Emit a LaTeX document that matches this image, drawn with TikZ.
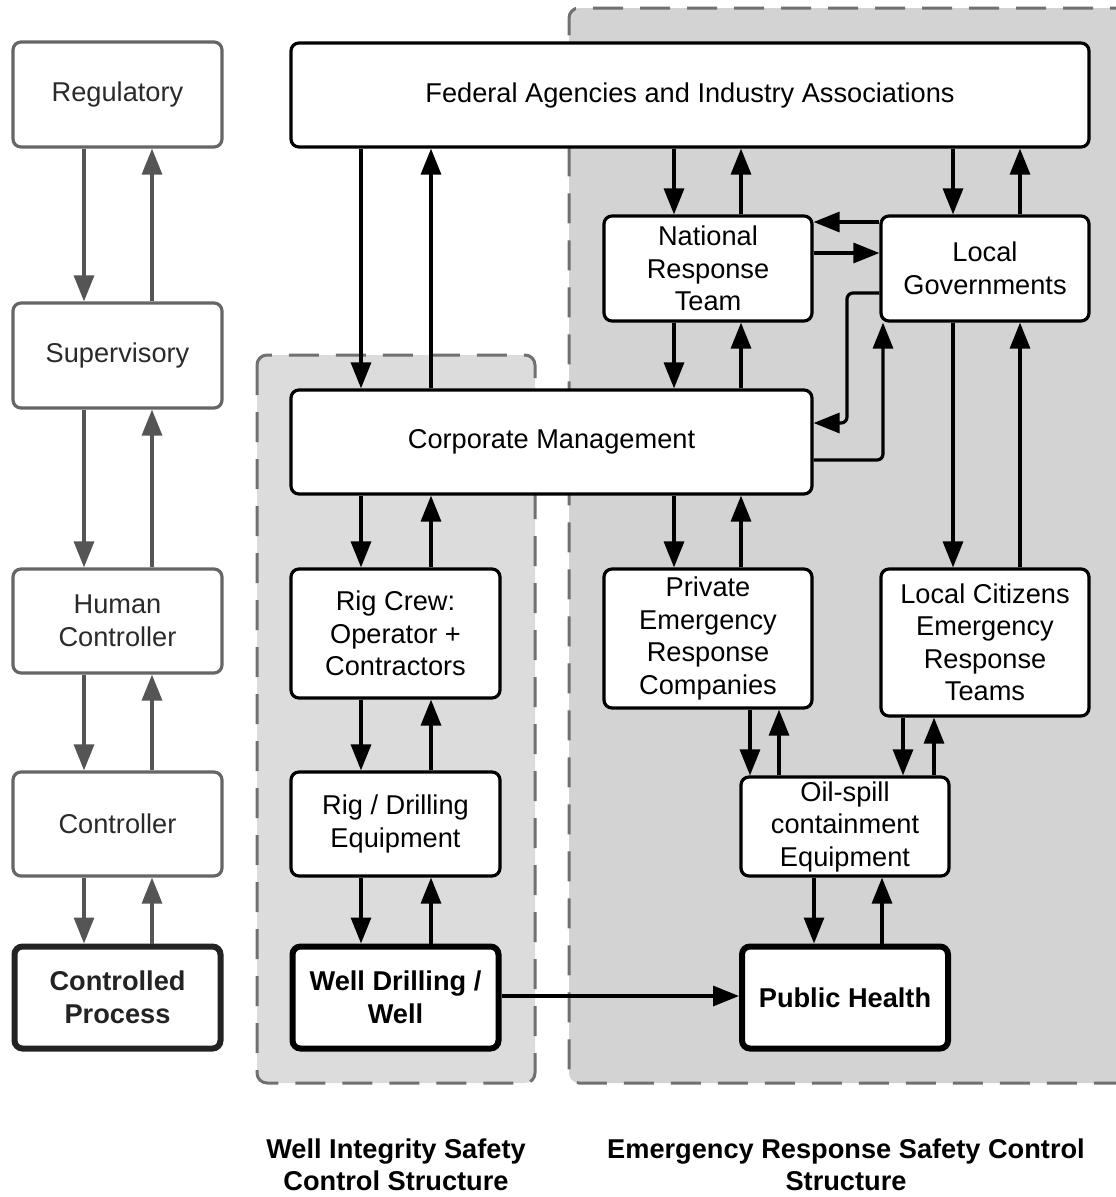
\documentclass[tikz,border=0pt]{standalone}
\usepackage{fontspec}
\setmainfont{Liberation Sans}
\usetikzlibrary{arrows.meta}
\definecolor{regionA}{HTML}{DCDCDC}
\definecolor{regionB}{HTML}{D3D3D3}
\definecolor{regionline}{HTML}{707070}
\definecolor{genline}{HTML}{555555}
\definecolor{genborder}{HTML}{666666}
\definecolor{gentext}{HTML}{2A2A2A}
\definecolor{genthick}{HTML}{232323}
\begin{document}
\begin{tikzpicture}[x=1pt,y=-1pt,
  every node/.style={font=\fontsize{27.2}{32.5}\selectfont},
  box/.style={draw=black, fill=white, line width=3.2pt, rounded corners=8pt,
    align=center, inner sep=0pt},
  procbox/.style={box, line width=6pt, font=\fontsize{27.2}{32.5}\selectfont\bfseries},
  genbox/.style={box, draw=genborder, text=gentext},
  genproc/.style={box, draw=genthick, text=genthick, line width=6pt,
    font=\fontsize{27.2}{32.5}\selectfont\bfseries},
  region/.style={draw=regionline, line width=3pt, dash pattern=on 30pt off 17pt,
    rounded corners=10pt},
  arr/.style={draw=black, line width=3.2pt, -{Triangle[length=26pt,width=20pt]}},
  elbow/.style={arr, rounded corners=6pt},
  genarr/.style={arr, draw=genline, fill=genline},
  caption/.style={align=center, font=\fontsize{27.2}{32}\selectfont\bfseries}
]
\useasboundingbox (0,0) rectangle (1116,1197);

% ---- shaded control-structure regions ----
\begin{scope}
  \clip (0,0) rectangle (1116,1197);
  \fill[regionB, rounded corners=10pt] (569,8) rectangle (1140,1083);
  \draw[region] (1140,8) -- (569,8) -- (569,1083) -- (1140,1083);
\end{scope}
\fill[regionA, rounded corners=10pt] (257,355) rectangle (535,1083);
\draw[region] (257,355) rectangle (535,1083);

% ---- generic control loop (left column) ----
\node[genbox, minimum width=209pt, minimum height=105pt] (reg) at (117.5,94.5) {Regulatory};
\node[genbox, minimum width=209pt, minimum height=105pt] (sup) at (117.5,355.5) {Supervisory};
\node[genbox, minimum width=209pt, minimum height=104pt] (hum) at (117.5,621) {Human\\Controller};
\node[genbox, minimum width=209pt, minimum height=104pt] (ctl) at (117.5,824) {Controller};
\node[genproc, minimum width=206pt, minimum height=102pt] (cp) at (117.5,997.5) {Controlled\\Process};

% ---- oil-spill control structure ----
\node[box, minimum width=798pt, minimum height=104pt] (fed) at (690,95)
  {Federal Agencies and Industry Associations};
\node[box, minimum width=208pt, minimum height=105pt] (nrt) at (708,268.5)
  {National\\Response\\Team};
\node[box, minimum width=208pt, minimum height=105pt] (lg) at (985,268.5)
  {Local\\Governments};
\node[box, minimum width=521pt, minimum height=104pt] (corp) at (551.5,442)
  {Corporate Management};
\node[box, minimum width=209pt, minimum height=129pt] (crew) at (395.5,633.5)
  {Rig Crew:\\Operator +\\Contractors};
\node[box, minimum width=209pt, minimum height=104pt] (rigeq) at (395.5,824)
  {Rig / Drilling\\Equipment};
\node[procbox, minimum width=206pt, minimum height=102pt] (well) at (395.5,997.5)
  {Well Drilling /\\Well};
\node[box, minimum width=208pt, minimum height=139pt] (priv) at (708,638.5)
  {Private\\Emergency\\Response\\Companies};
\node[box, minimum width=208pt, minimum height=147pt] (citz) at (985,642.5)
  {Local Citizens\\Emergency\\Response\\Teams};
\node[box, minimum width=208pt, minimum height=99pt] (oil) at (845,826.5)
  {Oil-spill\\containment\\Equipment};
\node[procbox, minimum width=206pt, minimum height=102pt] (ph) at (845,997.5)
  {Public Health};

% ---- captions ----
\node[caption] (capA) at (396,1165) {Well Integrity Safety\\Control Structure};
\node[caption] (capB) at (846,1165) {Emergency Response Safety Control\\Structure};

% ---- connector columns and rows ----
\coordinate (cDown) at (84,0);   \coordinate (cUp) at (152,0);
\coordinate (wDown) at (361,0);  \coordinate (wUp) at (431,0);
\coordinate (nDown) at (674,0);  \coordinate (nUp) at (741,0);
\coordinate (lDown) at (953,0);  \coordinate (lUp) at (1020,0);
\coordinate (pDown) at (750,0);  \coordinate (pUp) at (779,0);
\coordinate (tDown) at (903,0);  \coordinate (tUp) at (934,0);
\coordinate (oDown) at (814,0);  \coordinate (oUp) at (882,0);
\coordinate (bendIn) at (847,0); \coordinate (bendOut) at (883,0);
\coordinate (rTop) at (0,222);   \coordinate (rMid) at (0,253);
\coordinate (rLow) at (0,293);   \coordinate (rCin) at (0,423);
\coordinate (rCout) at (0,460);  \coordinate (rWell) at (0,996);

% generic loop
\draw[genarr] (reg.south -| cDown) -- (sup.north -| cDown);
\draw[genarr] (sup.north -| cUp) -- (reg.south -| cUp);
\draw[genarr] (sup.south -| cDown) -- (hum.north -| cDown);
\draw[genarr] (hum.north -| cUp) -- (sup.south -| cUp);
\draw[genarr] (hum.south -| cDown) -- (ctl.north -| cDown);
\draw[genarr] (ctl.north -| cUp) -- (hum.south -| cUp);
\draw[genarr] (ctl.south -| cDown) -- (cp.north -| cDown);
\draw[genarr] (cp.north -| cUp) -- (ctl.south -| cUp);

% well integrity chain
\draw[arr] (fed.south -| wDown) -- (corp.north -| wDown);
\draw[arr] (corp.north -| wUp) -- (fed.south -| wUp);
\draw[arr] (corp.south -| wDown) -- (crew.north -| wDown);
\draw[arr] (crew.north -| wUp) -- (corp.south -| wUp);
\draw[arr] (crew.south -| wDown) -- (rigeq.north -| wDown);
\draw[arr] (rigeq.north -| wUp) -- (crew.south -| wUp);
\draw[arr] (rigeq.south -| wDown) -- (well.north -| wDown);
\draw[arr] (well.north -| wUp) -- (rigeq.south -| wUp);

% emergency response chain
\draw[arr] (fed.south -| nDown) -- (nrt.north -| nDown);
\draw[arr] (nrt.north -| nUp) -- (fed.south -| nUp);
\draw[arr] (fed.south -| lDown) -- (lg.north -| lDown);
\draw[arr] (lg.north -| lUp) -- (fed.south -| lUp);
\draw[arr] (nrt.south -| nDown) -- (corp.north -| nDown);
\draw[arr] (corp.north -| nUp) -- (nrt.south -| nUp);
\draw[arr] (lg.west |- rTop) -- (nrt.east |- rTop);
\draw[arr] (nrt.east |- rMid) -- (lg.west |- rMid);
\draw[elbow] (lg.west |- rLow) -- (bendIn |- rLow) -- (bendIn |- rCin) -- (corp.east |- rCin);
\draw[elbow] (corp.east |- rCout) -- (bendOut |- rCout) -- (lg.south -| bendOut);
\draw[arr] (lg.south -| lDown) -- (citz.north -| lDown);
\draw[arr] (citz.north -| lUp) -- (lg.south -| lUp);
\draw[arr] (corp.south -| nDown) -- (priv.north -| nDown);
\draw[arr] (priv.north -| nUp) -- (corp.south -| nUp);
\draw[arr] (priv.south -| pDown) -- (oil.north -| pDown);
\draw[arr] (oil.north -| pUp) -- (priv.south -| pUp);
\draw[arr] (citz.south -| tDown) -- (oil.north -| tDown);
\draw[arr] (oil.north -| tUp) -- (citz.south -| tUp);
\draw[arr] (oil.south -| oDown) -- (ph.north -| oDown);
\draw[arr] (ph.north -| oUp) -- (oil.south -| oUp);
\draw[arr] (well.east |- rWell) -- (ph.west |- rWell);
\end{tikzpicture}
\end{document}
